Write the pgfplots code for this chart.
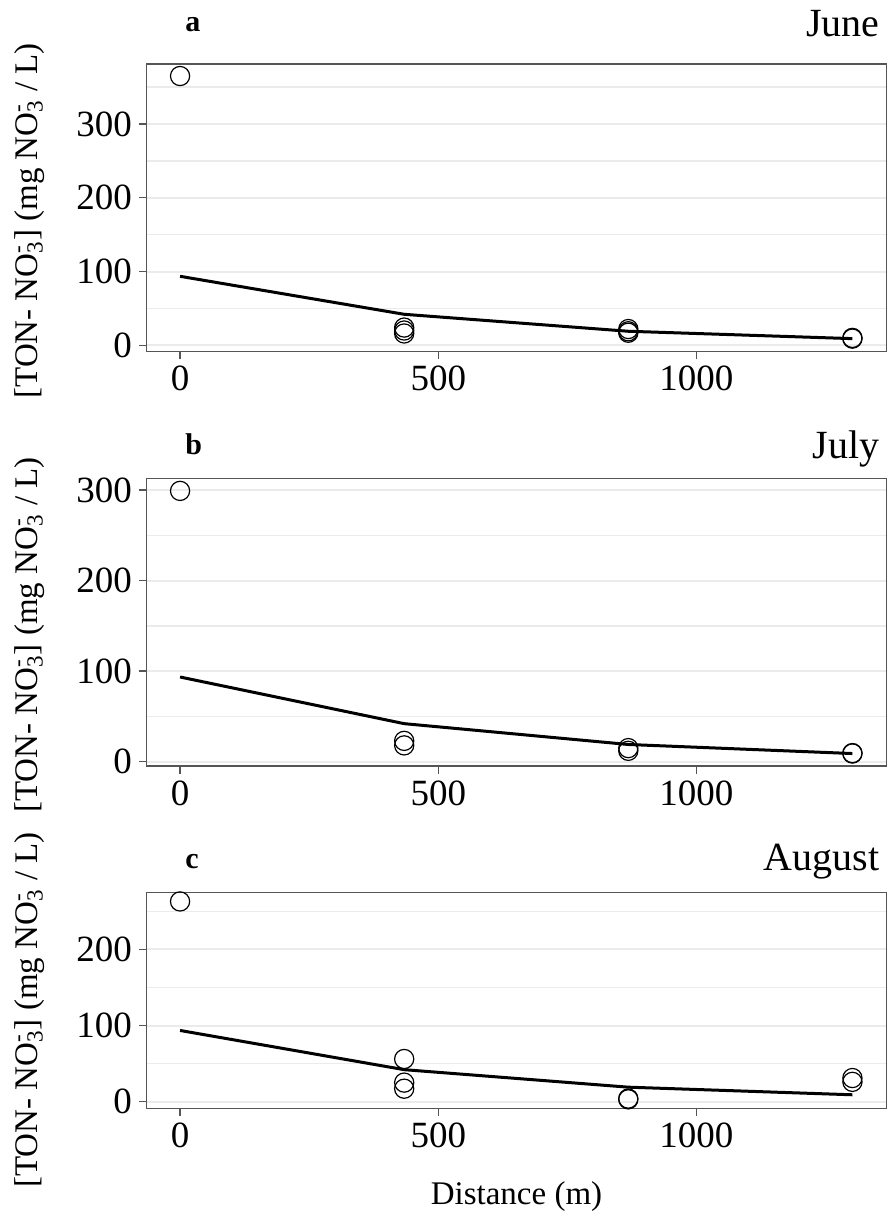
\documentclass[border=0pt]{standalone}
\usepackage{fontspec}
\setmainfont{Liberation Serif}
\usepackage{pgfplots}
\pgfplotsset{compat=1.18}
\definecolor{gridc}{HTML}{EBEBEB}
\definecolor{framec}{HTML}{555555}
\newcommand{\nothree}{NO\rlap{\textsuperscript{-}}\textsubscript{3}}
\pgfplotsset{
  panel/.style={
    scale only axis, width=370pt,
    xmin=-65, xmax=1368,
    xtick={0,500,1000},
    clip mode=individual,
    axis line style={framec, line width=0.7pt},
    ymajorgrids, yminorgrids,
    major grid style={gridc, line width=1pt},
    minor grid style={gridc, line width=0.7pt},
    tick align=outside, tick pos=left,
    major tick length=3.8pt, minor tick length=0pt,
    tick style={framec, line width=0.7pt},
    ticklabel style={font=\fontsize{18.5}{18.5}\selectfont},
    /pgf/number format/assume math mode=true,
    /pgf/number format/1000 sep={},
    scaled ticks=false,
    ylabel={[TON- \nothree] (mg \nothree\ / L)},
    ylabel style={at={(axis description cs:-0.158,0.455)}, anchor=center, font=\fontsize{16.5}{16.5}\selectfont},
  },
  fitline/.style={black, line width=1.5pt, no marks},
  pts/.style={only marks, mark=o, mark size=4.8pt, mark options={black, line width=0.6pt}},
}
\tikzset{
  month/.style={anchor=base east, font=\fontsize{20}{20}\selectfont},
  letter/.style={anchor=base west, font=\bfseries\fontsize{15}{15}\selectfont},
}
\begin{document}
\begin{tikzpicture}
\useasboundingbox (0,0) rectangle (445.5pt,608.5pt);
% panel a
\begin{axis}[panel, at={(73.25pt,432.65pt)}, anchor=south west, height=143.85pt,
  ymin=-8.7, ymax=381.3, ytick={0,100,200,300}, minor ytick={50,150,250,350}]
\addplot[fitline] coordinates {(0,93.5) (434,42) (868,19) (1302,9)};
\addplot[pts] coordinates {(0,365) (434,24) (434,20) (434,16) (868,22) (868,19) (868,17) (1302,10) (1302,9)};
\node[month] at (rel axis cs:1,1) [yshift=14pt] {June};
\node[letter] at (rel axis cs:0.043,1) [yshift=16pt] {a};
\end{axis}
% panel b
\begin{axis}[panel, at={(73.25pt,225.5pt)}, anchor=south west, height=143.85pt,
  ymin=-4.75, ymax=312.9, ytick={0,100,200,300}, minor ytick={50,150,250}]
\addplot[fitline] coordinates {(0,93.5) (434,42) (868,19) (1302,9)};
\addplot[pts] coordinates {(0,299) (434,23) (434,18) (868,15) (868,12) (1302,9) (1302,9.5)};
\node[month] at (rel axis cs:1,1) [yshift=10pt] {July};
\node[letter] at (rel axis cs:0.043,1) [yshift=12pt] {b};
\end{axis}
% panel c
\begin{axis}[panel, at={(73.25pt,54.35pt)}, anchor=south west, height=108pt,
  ymin=-8.75, ymax=275, ytick={0,100,200}, minor ytick={50,150,250},
  xlabel={Distance (m)}, xlabel style={font=\fontsize{16.5}{16.5}\selectfont, at={(axis description cs:0.5,0)}, anchor=base, yshift=-48pt}]
\addplot[fitline] coordinates {(0,93.5) (434,42) (868,19) (1302,9)};
\addplot[pts] coordinates {(0,263) (434,56) (434,25) (434,17) (868,4) (868,3) (1302,31) (1302,26)};
\node[month] at (rel axis cs:1,1) [yshift=11pt] {August};
\node[letter] at (rel axis cs:0.043,1) [yshift=12pt] {c};
\end{axis}
\end{tikzpicture}
\end{document}
